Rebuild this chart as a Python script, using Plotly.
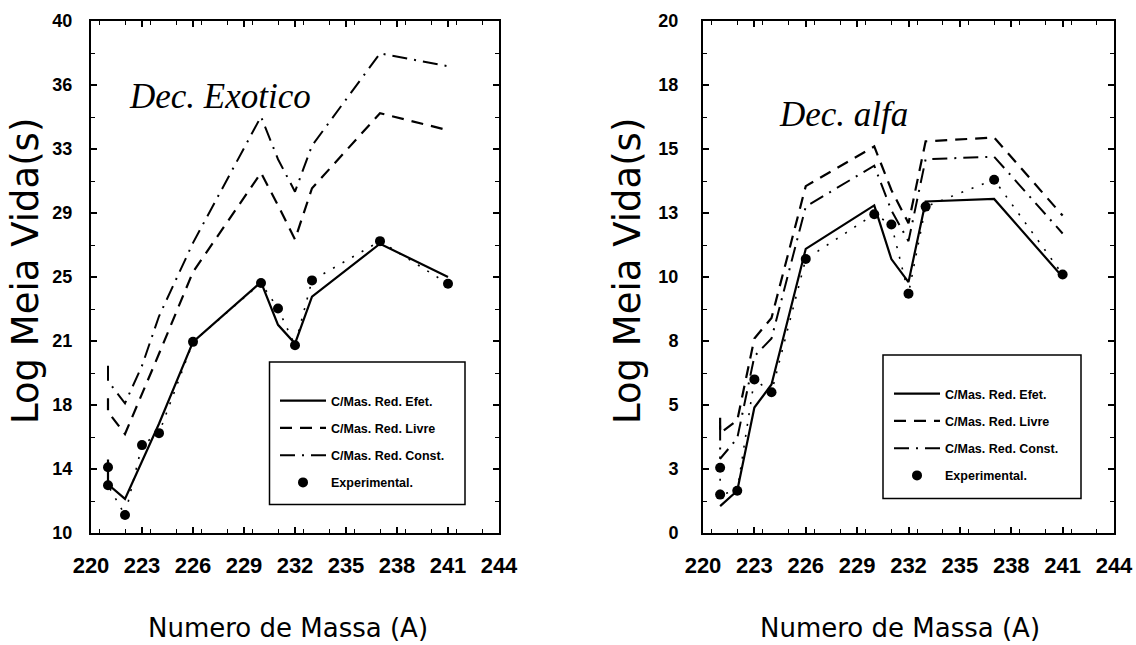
import numpy as np
import plotly.graph_objects as go

W, H = 1136, 645

# ---------------- data ----------------
mass = [221, 221, 222, 223, 224, 226, 230, 231, 232, 233, 237, 241]

# Dec. Exotico (left panel)
efet_exo = [14.3, 12.85, 12.0, 14.2, 16.4, 21.2, 24.7, 22.2, 21.1, 23.85, 26.95, 25.0]
livre_exo = [17.9, 17.1, 15.8, 18.1, 20.5, 25.3, 31.1, 29.2, 27.2, 30.2, 34.6, 33.6]
const_exo = [19.8, 18.9, 17.6, 19.8, 22.7, 27.0, 34.4, 31.9, 30.0, 32.7, 38.1, 37.35]
exp_exo = [13.85, 12.8, 11.05, 15.15, 15.85, 21.2, 24.65, 23.15, 21.0, 24.8, 27.1, 24.6]

# Dec. alfa (right panel)
efet_alfa = [1.05, 1.05, 1.65, 4.9, 5.8, 11.1, 12.8, 10.7, 9.8, 12.95, 13.05, 10.0]
livre_alfa = [4.5, 3.9, 4.4, 7.6, 8.4, 13.55, 15.1, 13.4, 12.1, 15.3, 15.45, 12.4]
const_alfa = [4.2, 2.9, 3.7, 6.9, 7.6, 12.75, 14.35, 12.6, 11.4, 14.6, 14.7, 11.7]
exp_alfa = [2.55, 1.5, 1.65, 6.0, 5.5, 10.7, 12.45, 12.05, 9.35, 12.75, 13.8, 10.1]

series_names = ["C/Mas. Red. Efet.", "C/Mas. Red. Livre", "C/Mas. Red. Const.", "Experimental."]

x_ticks = [220, 223, 226, 229, 232, 235, 238, 241, 244]
y_ticktext_exo = ["10", "14", "18", "21", "25", "29", "33", "36", "40"]
y_ticktext_alfa = ["0", "3", "5", "8", "10", "13", "15", "18", "20"]

# ---------------- helpers ----------------
def px_x(p):
    return p / W

def px_y(p):
    return 1 - p / H

BLACK = "#000000"
dash_livre = "12px,8px"
dash_const = "15px,7px,2px,7px"
dash_exp = "2px,9px"

fig = go.Figure()

panels = [
    dict(xa="x", ya="y", leg="legend", data=[efet_exo, livre_exo, const_exo, exp_exo]),
    dict(xa="x2", ya="y2", leg="legend2", data=[efet_alfa, livre_alfa, const_alfa, exp_alfa]),
]

for pi, p in enumerate(panels):
    efet, livre, const, exp = p["data"]
    styles = [
        dict(dash="solid", width=2.2),
        dict(dash=dash_livre, width=2.2),
        dict(dash=dash_const, width=2.0),
    ]
    for k, (vals, st) in enumerate(zip([efet, livre, const], styles)):
        fig.add_trace(go.Scatter(
            x=mass, y=vals, mode="lines", name=series_names[k],
            line=dict(color=BLACK, width=st["width"], dash=st["dash"]),
            xaxis=p["xa"], yaxis=p["ya"], legend=p["leg"],
            legendgroup=f"g{pi}{k}",
        ))
    # dotted line joining experimental points (no legend entry)
    fig.add_trace(go.Scatter(
        x=mass, y=exp, mode="lines", showlegend=False,
        line=dict(color=BLACK, width=1.6, dash=dash_exp),
        xaxis=p["xa"], yaxis=p["ya"], hoverinfo="skip",
    ))
    fig.add_trace(go.Scatter(
        x=mass, y=exp, mode="markers", name=series_names[3],
        marker=dict(color=BLACK, size=10, symbol="circle"),
        xaxis=p["xa"], yaxis=p["ya"], legend=p["leg"],
        legendgroup=f"g{pi}3",
    ))

tickfont_x = dict(family="Liberation Sans, Arial, sans-serif", size=22, color=BLACK, weight="bold")
tickfont_y = dict(family="Liberation Sans, Arial, sans-serif", size=18, color=BLACK, weight="bold")

def xaxis_cfg(domain, anchor):
    return dict(
        domain=domain, anchor=anchor, range=[220, 244],
        tickmode="array", tickvals=x_ticks, ticktext=[str(v) for v in x_ticks],
        ticks="inside", ticklen=6, tickwidth=1.5, tickcolor=BLACK,
        minor=dict(ticks="inside", ticklen=4, tickwidth=1, tickcolor=BLACK, dtick=1.5, showgrid=False),
        showline=True, linecolor=BLACK, linewidth=2, mirror="ticks",
        showgrid=False, zeroline=False, tickfont=tickfont_x,
        ticklabelstandoff=12, automargin=False, fixedrange=True,
    )

def yaxis_cfg(domain, anchor, rng, ticktext, standoff):
    tv = list(np.linspace(rng[0], rng[1], len(ticktext)))
    step = (rng[1] - rng[0]) / (len(ticktext) - 1)
    return dict(
        domain=domain, anchor=anchor, range=rng,
        tickmode="array", tickvals=tv, ticktext=ticktext,
        ticks="inside", ticklen=6, tickwidth=1.5, tickcolor=BLACK,
        minor=dict(ticks="inside", ticklen=4, tickwidth=1, tickcolor=BLACK,
                   tick0=rng[0], dtick=step / 2, showgrid=False),
        showline=True, linecolor=BLACK, linewidth=2, mirror="ticks",
        showgrid=False, zeroline=False, tickfont=tickfont_y,
        ticklabelstandoff=standoff, automargin=False, fixedrange=True,
    )

legend_font = dict(family="Liberation Sans, Arial, sans-serif", size=12.5, color=BLACK, weight="bold")

y_dom = [px_y(533), px_y(21)]
fig.update_layout(
    width=W, height=H,
    margin=dict(l=0, r=0, t=0, b=0),
    paper_bgcolor="white", plot_bgcolor="white",
    xaxis=xaxis_cfg([px_x(91), px_x(499)], "y"),
    yaxis=yaxis_cfg(y_dom, "x", [10, 40], y_ticktext_exo, 13),
    xaxis2=xaxis_cfg([px_x(703), px_x(1114)], "y2"),
    yaxis2=yaxis_cfg(y_dom, "x2", [0, 20], y_ticktext_alfa, 19),
    legend=dict(
        x=px_x(275), y=px_y(386), xanchor="left", yanchor="top",
        bgcolor="rgba(0,0,0,0)", borderwidth=0, tracegroupgap=8, itemwidth=46,
        font=legend_font,
    ),
    legend2=dict(
        x=px_x(889), y=px_y(379), xanchor="left", yanchor="top",
        bgcolor="rgba(0,0,0,0)", borderwidth=0, tracegroupgap=8, itemwidth=46,
        font=legend_font,
    ),
    showlegend=True,
)

# legend frames
for (x0, x1, y0, y1) in [(269.5, 465, 362, 504.5), (883, 1081, 355, 498.5)]:
    fig.add_shape(type="rect", xref="paper", yref="paper",
                  x0=px_x(x0), x1=px_x(x1), y0=px_y(y1), y1=px_y(y0),
                  line=dict(color=BLACK, width=1.5), layer="above")

title_font = dict(family="DejaVu Sans, Liberation Sans, sans-serif", size=26, color=BLACK)
ytitle_font = dict(family="DejaVu Sans, Liberation Sans, sans-serif", size=37, color=BLACK)
script_font = dict(family="Liberation Serif, DejaVu Serif, serif", size=35, color=BLACK, style="italic")

annotations = [
    dict(text="Numero de Massa (A)", x=px_x(288), y=px_y(628), font=title_font),
    dict(text="Numero de Massa (A)", x=px_x(900), y=px_y(628), font=title_font),
    dict(text="Log Meia Vida(s)", x=px_x(25), y=px_y(271), font=ytitle_font, textangle=-90),
    dict(text="Log Meia Vida(s)", x=px_x(627), y=px_y(271), font=ytitle_font, textangle=-90),
    dict(text="Dec. Exotico", x=px_x(220), y=px_y(96), font=script_font),
    dict(text="Dec. alfa", x=px_x(843), y=px_y(114), font=script_font),
]
for a in annotations:
    fig.add_annotation(xref="paper", yref="paper", showarrow=False,
                       xanchor="center", yanchor="middle", **a)

fig.write_html("out.html")
